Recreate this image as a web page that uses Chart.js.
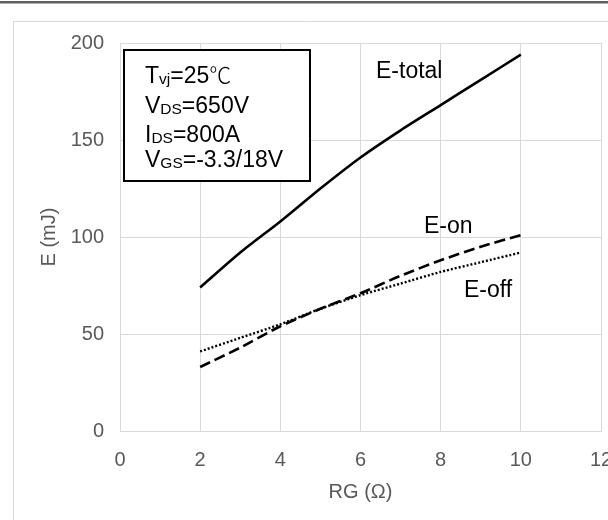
<!DOCTYPE html>
<html>
<head>
<meta charset="utf-8">
<script src="https://cdn.jsdelivr.net/npm/chart.js@4/dist/chart.umd.min.js"></script>
<style>
  html, body { margin: 0; padding: 0; background: #ffffff; }
  #wrap { width: 608px; height: 520px; position: relative; }
</style>
</head>
<body>
<div id="wrap"><canvas id="c" width="608" height="520"></canvas></div>
<script>
// Gate resistance (Ω) and switching energies (mJ)
const rg = [2, 3, 4, 5, 6, 7, 8, 9, 10];
const eTotal = [74, 92, 108, 125, 141, 155, 168, 181, 194];
const eOn = [33, 43, 54, 63, 71, 80, 88, 95, 101];
const eOff = [41, 48, 55, 63, 70, 76, 82, 87, 92];

const xTicks = [0, 2, 4, 6, 8, 10, 12];
const yTicks = [0, 50, 100, 150, 200];

const seriesNames = ['E-total', 'E-on', 'E-off'];
const conditions = [
  [['T', 'big'], ['vj', 'sub'], ['=25', 'big'], ['\u2103', 'sym']],
  [['V', 'big'], ['DS', 'sub'], ['=650V', 'big']],
  [['I', 'big'], ['DS', 'sub'], ['=800A', 'big']],
  [['V', 'big'], ['GS', 'sub'], ['=-3.3/18V', 'big']]
];

const FAMILY = '"Liberation Sans", Arial, sans-serif';
const GRID = '#d9d9d9';
const AXIS_TEXT = '#595959';

const pts = (ys) => rg.map((x, i) => ({ x: x, y: ys[i] }));

// Page frame: dark rule along the top and light border round the chart
const framePlugin = {
  id: 'frame',
  beforeDraw(chart) {
    const ctx = chart.ctx;
    ctx.save();
    ctx.fillStyle = '#ffffff';
    ctx.fillRect(0, 0, chart.width, chart.height);
    ctx.fillStyle = '#5e5e5e';
    ctx.fillRect(0, 1, chart.width, 2.5);
    ctx.strokeStyle = GRID;
    ctx.lineWidth = 1;
    ctx.beginPath();
    ctx.moveTo(13.5, chart.height + 2);
    ctx.lineTo(13.5, 21.5);
    ctx.lineTo(chart.width + 2, 21.5);
    ctx.stroke();
    ctx.restore();
  }
};

// Test-condition box and curve names
const notesPlugin = {
  id: 'notes',
  afterDraw(chart) {
    const ctx = chart.ctx;
    ctx.save();
    // condition box
    ctx.fillStyle = '#ffffff';
    ctx.fillRect(124, 50, 186, 131);
    ctx.strokeStyle = '#000000';
    ctx.lineWidth = 2;
    ctx.strokeRect(124, 50, 186, 131);

    const fonts = {
      big: '23px ' + FAMILY,
      sub: '15.5px ' + FAMILY,
      sym: '300 22px "Noto Sans CJK SC", "DejaVu Sans", sans-serif'
    };
    const baselines = [83, 113, 142, 167];
    ctx.fillStyle = '#000000';
    ctx.textBaseline = 'alphabetic';
    ctx.textAlign = 'left';
    conditions.forEach((parts, i) => {
      let x = 145;
      parts.forEach(([txt, kind]) => {
        ctx.font = fonts[kind];
        const y = baselines[i] + (kind === 'sub' ? 1 : 0);
        ctx.fillText(txt, x, y);
        x += ctx.measureText(txt).width;
      });
    });

    // curve names
    ctx.font = '23px ' + FAMILY;
    const spots = [[376, 78], [424, 233], [464, 297]];
    seriesNames.forEach((name, i) => {
      ctx.fillText(name, spots[i][0], spots[i][1]);
    });
    ctx.restore();
  }
};

new Chart(document.getElementById('c'), {
  type: 'line',
  data: {
    datasets: [
      {
        label: seriesNames[0],
        data: pts(eTotal),
        borderColor: '#000000',
        borderWidth: 2.6,
        pointRadius: 0,
        tension: 0.25,
        fill: false
      },
      {
        label: seriesNames[1],
        data: pts(eOn),
        borderColor: '#000000',
        borderWidth: 2.6,
        borderDash: [11, 5],
        pointRadius: 0,
        tension: 0.25,
        fill: false
      },
      {
        label: seriesNames[2],
        data: pts(eOff),
        borderColor: '#000000',
        borderWidth: 2.4,
        borderDash: [2, 2],
        borderCapStyle: 'butt',
        pointRadius: 0,
        tension: 0.25,
        fill: false
      }
    ]
  },
  options: {
    responsive: false,
    animation: false,
    devicePixelRatio: 1,
    layout: { padding: { left: 0, top: 43, right: 7, bottom: 0 } },
    plugins: { legend: { display: false }, tooltip: { enabled: false } },
    scales: {
      x: {
        type: 'linear',
        min: xTicks[0],
        max: xTicks[xTicks.length - 1],
        afterBuildTicks(scale) { scale.ticks = xTicks.map(v => ({ value: v })); },
        afterFit(scale) { scale.height = 89; scale.paddingLeft = 0; scale.paddingRight = 0; },
        grid: { color: GRID, lineWidth: 1, drawTicks: false },
        border: { color: GRID, width: 1 },
        ticks: { color: AXIS_TEXT, font: { family: FAMILY, size: 20 }, padding: 17, maxRotation: 0 },
        title: {
          display: true,
          text: 'RG (\u03A9)',
          color: AXIS_TEXT,
          font: { family: FAMILY, size: 20 },
          padding: { top: 0, bottom: 16 }
        }
      },
      y: {
        type: 'linear',
        min: yTicks[0],
        max: yTicks[yTicks.length - 1],
        afterBuildTicks(scale) { scale.ticks = yTicks.map(v => ({ value: v })); },
        afterFit(scale) { scale.width = 120; scale.paddingTop = 0; scale.paddingBottom = 0; },
        grid: { color: GRID, lineWidth: 1, drawTicks: false },
        border: { color: GRID, width: 1 },
        ticks: { color: AXIS_TEXT, font: { family: FAMILY, size: 20 }, padding: 16 },
        title: {
          display: true,
          text: 'E (mJ)',
          color: AXIS_TEXT,
          font: { family: FAMILY, size: 20 },
          padding: { top: 37, bottom: 0 }
        }
      }
    }
  },
  plugins: [framePlugin, notesPlugin]
});
</script>
</body>
</html>
